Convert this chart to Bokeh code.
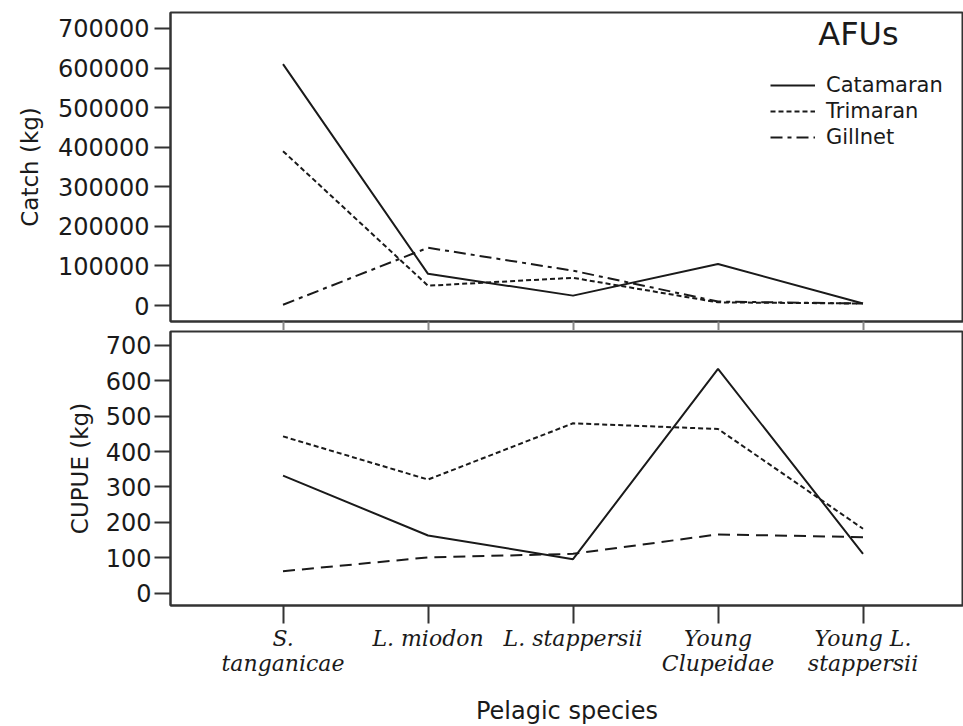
from bokeh.plotting import figure
from bokeh.layouts import column
from bokeh.models import Range1d, FixedTicker, BasicTickFormatter, Legend, LegendItem, Label
from bokeh.embed import file_html
from bokeh.resources import INLINE

# ---- data ----
species = ["S. tanganicae", "L. miodon", "L. stappersii", "Young Clupeidae", "Young L. stappersii"]
species_tick_labels = ["S.\ntanganicae", "L. miodon", "L. stappersii", "Young\nClupeidae", "Young L.\nstappersii"]

catch_catamaran = [610000, 80000, 25000, 105000, 5000]
catch_trimaran = [390000, 50000, 70000, 8000, 5000]
catch_gillnet = [2000, 146000, 88000, 10000, 5000]

cupue_catamaran = [332, 163, 96, 634, 111]
cupue_trimaran = [443, 321, 480, 464, 182]
cupue_gillnet = [62, 101, 111, 166, 158]

catch_ticks = [0, 100000, 200000, 300000, 400000, 500000, 600000, 700000]
cupue_ticks = [0, 100, 200, 300, 400, 500, 600, 700]

series_names = ["Catamaran", "Trimaran", "Gillnet"]

xs = list(range(len(species)))
SANS = "DejaVu Sans"
SERIF = "DejaVu Serif"
INK = "#1a1a1a"


def style(p):
    p.outline_line_color = "#333333"
    p.outline_line_width = 2
    p.grid.visible = False
    p.background_fill_color = "white"
    p.border_fill_color = "white"
    for ax in p.axis:
        ax.axis_line_color = "#333333"
        ax.axis_line_width = 2
        ax.major_tick_line_color = "#333333"
        ax.major_tick_line_width = 2
        ax.minor_tick_line_color = None
        ax.major_tick_in = 0
        ax.major_label_text_color = INK
        ax.axis_label_text_color = INK
        ax.axis_label_text_font_style = "normal"


# ---- top panel: Catch ----
top = figure(width=963, frame_width=793, frame_height=309,
             min_border_left=170, min_border_right=0, min_border_top=12, min_border_bottom=0,
             x_range=Range1d(-0.776, 4.693), y_range=Range1d(-40400, 740400),
             output_backend="svg", toolbar_location=None)

r_cat = top.line(xs, catch_catamaran, line_color=INK, line_width=2)
r_tri = top.line(xs, catch_trimaran, line_color=INK, line_width=2, line_dash="5 3")
r_gil = top.line(xs, catch_gillnet, line_color=INK, line_width=2, line_dash="12 5 4 5")

style(top)
top.yaxis.ticker = FixedTicker(ticks=catch_ticks)
top.yaxis.formatter = BasicTickFormatter(use_scientific=False)
top.yaxis.major_tick_out = 16
top.yaxis.major_label_standoff = 5
top.yaxis.major_label_text_font = SANS
top.yaxis.major_label_text_font_size = "24px"
top.yaxis.axis_label = "Catch (kg)"
top.yaxis.axis_label_text_font = SANS
top.yaxis.axis_label_text_font_size = "23px"
top.yaxis.axis_label_standoff = 12

top.xaxis.ticker = FixedTicker(ticks=xs)
top.xaxis.major_tick_out = 9
top.xaxis.major_tick_line_color = "#888888"
top.xaxis.major_label_overrides = {i: "" for i in xs}
top.xaxis.major_label_text_color = None
top.xaxis.major_label_standoff = 0

legend = Legend(items=[LegendItem(label=series_names[0], renderers=[r_cat]),
                       LegendItem(label=series_names[1], renderers=[r_tri]),
                       LegendItem(label=series_names[2], renderers=[r_gil])],
                location=(600, 172), orientation="vertical",
                border_line_color=None, background_fill_alpha=0,
                padding=0, margin=0, spacing=2,
                glyph_width=45, glyph_height=20, label_standoff=11,
                label_text_font=SANS, label_text_font_size="21px", label_text_color=INK)
top.add_layout(legend, "center")

afus = Label(x=688, y=288, x_units="screen", y_units="screen", text="AFUs",
             text_font=SANS, text_font_size="32px", text_color=INK,
             text_align="center", text_baseline="middle")
top.add_layout(afus)

# ---- bottom panel: CUPUE ----
bot = figure(width=963, frame_width=793, frame_height=274,
             min_border_left=170, min_border_right=0, min_border_top=1, min_border_bottom=0,
             x_range=Range1d(-0.776, 4.693), y_range=Range1d(-35, 739.5),
             output_backend="svg", toolbar_location=None)

bot.line(xs, cupue_catamaran, line_color=INK, line_width=2)
bot.line(xs, cupue_trimaran, line_color=INK, line_width=2, line_dash="5 3")
bot.line(xs, cupue_gillnet, line_color=INK, line_width=2, line_dash="12 7")

style(bot)
bot.yaxis.ticker = FixedTicker(ticks=cupue_ticks)
bot.yaxis.major_tick_out = 16
bot.yaxis.major_label_standoff = 3
bot.yaxis.major_label_text_font = SANS
bot.yaxis.major_label_text_font_size = "24px"
bot.yaxis.axis_label = "CUPUE (kg)"
bot.yaxis.axis_label_text_font = SANS
bot.yaxis.axis_label_text_font_size = "23px"
bot.yaxis.axis_label_standoff = 10

bot.xaxis.ticker = FixedTicker(ticks=xs)
bot.xaxis.major_label_overrides = {i: lab for i, lab in zip(xs, species_tick_labels)}
bot.xaxis.major_tick_out = 18
bot.xaxis.major_label_standoff = 2
bot.xaxis.major_label_text_font = SERIF
bot.xaxis.major_label_text_font_style = "italic"
bot.xaxis.major_label_text_font_size = "22px"
bot.xaxis.major_label_text_line_height = 1.0
bot.xaxis.axis_label = "Pelagic species"
bot.xaxis.axis_label_text_font = SANS
bot.xaxis.axis_label_text_font_size = "24px"
bot.xaxis.axis_label_standoff = 18

layout = column(top, bot, spacing=0)

open("out.html", "w").write(file_html(layout, INLINE))
